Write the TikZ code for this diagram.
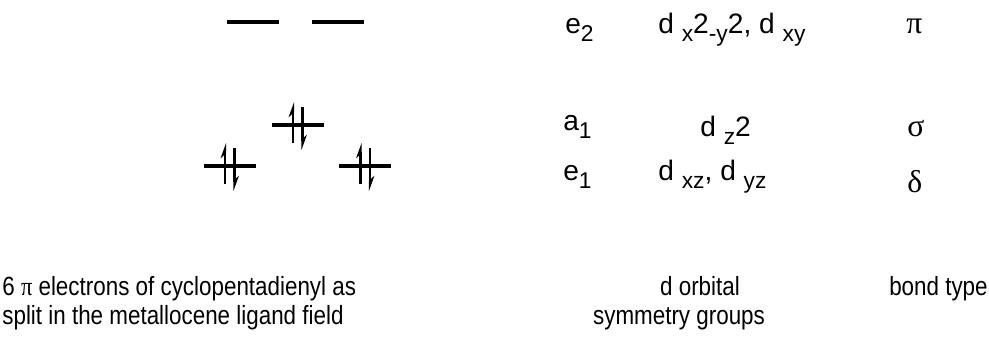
\documentclass[tikz,border=0pt]{standalone}
\usepackage{fontspec}
\setmainfont{Liberation Sans}
\newfontfamily\grk{Liberation Serif}
\newfontfamily\capfont{Liberation Sans}[FakeStretch=0.85]
\newfontfamily\capgrk{Liberation Serif}[FakeStretch=0.85]
\usetikzlibrary{arrows.meta,calc}
\newcommand{\lo}[1]{\raisebox{-0.3em}{\fontsize{13}{15}\selectfont #1}}
\newcommand{\orb}[2]{\draw[lvl] ($(#1,#2)+(-26,0)$) -- ($(#1,#2)+(26,0)$);}
\newcommand{\pairup}[2]{\orb{#1}{#2}
  \draw[spin] ($(#1,#2)+(-4.5,18)$) -- ($(#1,#2)+(-4.5,-23)$);
  \draw[spin] ($(#1,#2)+(5,-18)$) -- ($(#1,#2)+(5,25)$);}
\tikzset{lvl/.style={line width=2pt},
  spin/.style={line width=1.2pt,-{Stealth[harpoon,length=7pt,width=5pt]}},
  lbl/.style={anchor=base west,inner sep=0pt,font=\fontsize{16}{19}\selectfont},
  captxt/.style={inner sep=0pt,font=\capfont\fontsize{15}{18}\selectfont}}

\begin{document}
\begin{tikzpicture}[x=0.02cm,y=-0.02cm]
\useasboundingbox (0,0) rectangle (989,339);
% levels
\orb{253}{22} \orb{337.5}{22}
\pairup{297.5}{125}
\pairup{229.5}{166} \pairup{365}{166}
% symmetry labels
\node[lbl] (e2) at (565,33) {e\lo{2}};
\node[lbl] (de2) at (658,33) {d \lo{x}2\lo{-y}2, d \lo{xy}};
\node[lbl] (pi) at (906,33) {\fontsize{18}{20}\grk π};
\node[lbl] (a1) at (563,130) {a\lo{1}};
\node[lbl] (da1) at (700,136) {d \lo{z}2};
\node[lbl] (sg) at (907,136) {\fontsize{18}{20}\grk σ};
\node[lbl] (e1) at (563,180) {e\lo{1}};
\node[lbl] (de1) at (658,180) {d \lo{xz}, d \lo{yz}};
\node[lbl] (dl) at (907,192) {\fontsize{18}{20}\grk δ};
% captions
\node[captxt,anchor=base west] (c1a) at (2,295) {6 {\capgrk π} electrons of cyclopentadienyl as};
\node[captxt,anchor=base west] (c1b) at (2,324) {split in the metallocene ligand field};
\node[captxt,anchor=base] (c2a) at (700,295) {d orbital};
\node[captxt,anchor=base] (c2b) at (679,324) {symmetry groups};
\node[captxt,anchor=base east] (c3a) at (988,295) {bond type};
\end{tikzpicture}
\end{document}
